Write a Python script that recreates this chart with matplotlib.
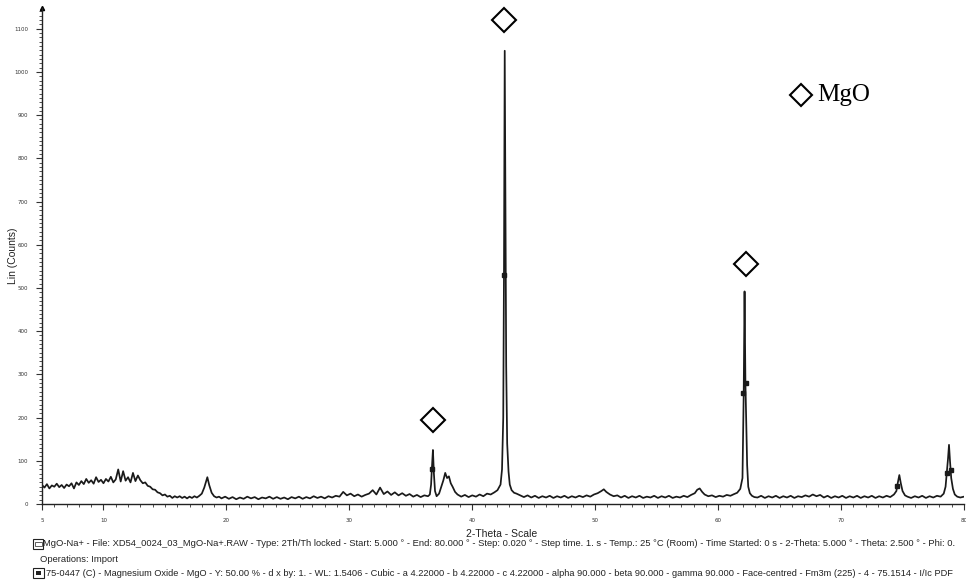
import matplotlib
matplotlib.use("Agg")
import matplotlib.pyplot as plt
from matplotlib.patches import Rectangle
from matplotlib.ticker import MultipleLocator, FixedLocator

# ---------------- data: (2-theta, counts) ----------------
hump_region = [
    (5.0, 44), (5.2, 38), (5.4, 46), (5.6, 36), (5.8, 43), (6.0, 40), (6.2, 47), (6.4, 39),
    (6.6, 44), (6.8, 37), (7.0, 45), (7.2, 41), (7.4, 48), (7.6, 36), (7.8, 50), (8.0, 44),
    (8.2, 53), (8.4, 46), (8.6, 58), (8.8, 49), (9.0, 55), (9.2, 47), (9.4, 62), (9.6, 51),
    (9.8, 56), (10.0, 48), (10.2, 58), (10.4, 52), (10.6, 63), (10.8, 50), (11.0, 57), (11.2, 80),
    (11.4, 52), (11.6, 76), (11.8, 54), (12.0, 62), (12.2, 50), (12.4, 72), (12.6, 53), (12.8, 66),
    (13.0, 55), (13.2, 48), (13.4, 50), (13.6, 42), (13.8, 40), (14.0, 34), (14.2, 33), (14.4, 27),
    (14.6, 25), (14.8, 20), (15.0, 22), (15.2, 17), (15.4, 19), (15.6, 14), (15.8, 18), (16.0, 15),
    (16.2, 18), (16.4, 14), (16.6, 17), (16.8, 13), (17.0, 17), (17.2, 14), (17.4, 18), (17.6, 15),
    (17.8, 19), (18.0, 24), (18.2, 38), (18.45, 62), (18.6, 44), (18.8, 26), (19.0, 18), (19.2, 15),
    (19.4, 17),
]
baseline_20_36 = [
    (19.6, 13), (19.9, 17), (20.2, 12), (20.5, 16), (20.8, 11), (21.1, 15), (21.4, 12), (21.7, 17),
    (22.0, 13), (22.3, 16), (22.6, 11), (22.9, 15), (23.2, 13), (23.5, 17), (23.8, 12), (24.1, 16),
    (24.4, 12), (24.7, 15), (25.0, 11), (25.3, 16), (25.6, 13), (25.9, 17), (26.2, 12), (26.5, 16),
    (26.8, 13), (27.1, 18), (27.4, 14), (27.7, 17), (28.0, 13), (28.3, 18), (28.6, 15), (28.9, 19),
    (29.2, 17), (29.5, 28), (29.8, 20), (30.1, 24), (30.4, 18), (30.7, 22), (31.0, 17), (31.3, 21),
    (31.6, 24), (31.9, 32), (32.2, 22), (32.5, 38), (32.8, 23), (33.1, 29), (33.4, 21), (33.7, 27),
    (34.0, 20), (34.3, 25), (34.6, 19), (34.9, 23), (35.2, 17), (35.5, 21), (35.8, 16), (36.1, 20),
    (36.4, 18),
]
peaks_37_43 = [
    (36.55, 22), (36.65, 45), (36.72, 85), (36.8, 125), (36.88, 70), (36.97, 30), (37.1, 18),
    (37.3, 24), (37.5, 42), (37.65, 55), (37.8, 72), (37.95, 60), (38.1, 64), (38.25, 48),
    (38.4, 40), (38.6, 28), (38.8, 22), (39.1, 17), (39.4, 21), (39.7, 16), (40.0, 20), (40.3, 17),
    (40.6, 22), (40.9, 18), (41.2, 24), (41.5, 22), (41.8, 27), (42.05, 32), (42.3, 45),
    (42.42, 80), (42.52, 200), (42.58, 540), (42.64, 1049), (42.7, 700), (42.76, 320),
    (42.84, 140), (42.95, 75), (43.05, 45), (43.2, 32), (43.4, 26), (43.6, 24), (43.9, 20),
]
baseline_44_62 = [
    (44.2, 16), (44.5, 20), (44.8, 15), (45.1, 19), (45.4, 14), (45.7, 18), (46.0, 15), (46.3, 19),
    (46.6, 14), (46.9, 18), (47.2, 15), (47.5, 19), (47.8, 14), (48.1, 18), (48.4, 15), (48.7, 19),
    (49.0, 16), (49.3, 20), (49.6, 17), (49.9, 22), (50.2, 25), (50.5, 30), (50.7, 34), (50.9, 28),
    (51.2, 22), (51.5, 18), (51.8, 20), (52.1, 15), (52.4, 19), (52.7, 14), (53.0, 18), (53.3, 15),
    (53.6, 19), (53.9, 14), (54.2, 17), (54.5, 15), (54.8, 19), (55.1, 14), (55.4, 18), (55.7, 15),
    (56.0, 19), (56.3, 14), (56.6, 17), (56.9, 15), (57.2, 19), (57.5, 16), (57.8, 21), (58.1, 25),
    (58.3, 33), (58.5, 36), (58.7, 28), (58.9, 22), (59.2, 18), (59.5, 20), (59.8, 16), (60.1, 19),
    (60.4, 17), (60.7, 21), (61.0, 19), (61.3, 23), (61.55, 26), (61.8, 35),
]
peak_62 = [
    (61.98, 60), (62.08, 257), (62.15, 492), (62.22, 280), (62.28, 200), (62.36, 90), (62.45, 40),
    (62.58, 25), (62.75, 19), (62.95, 16),
]
baseline_63_80 = [
    (63.2, 15), (63.5, 19), (63.8, 14), (64.1, 18), (64.4, 15), (64.7, 19), (65.0, 14), (65.3, 18),
    (65.6, 15), (65.9, 19), (66.2, 14), (66.5, 18), (66.8, 16), (67.1, 20), (67.4, 17), (67.7, 22),
    (68.0, 18), (68.3, 21), (68.6, 15), (68.9, 19), (69.2, 14), (69.5, 18), (69.8, 15), (70.1, 19),
    (70.4, 14), (70.7, 18), (71.0, 15), (71.3, 19), (71.6, 14), (71.9, 18), (72.2, 15), (72.5, 19),
    (72.8, 14), (73.1, 18), (73.4, 15), (73.7, 19), (74.0, 16), (74.3, 22), (74.5, 30), (74.62, 50),
    (74.74, 67), (74.86, 48), (75.0, 30), (75.2, 20), (75.4, 17), (75.7, 14), (76.0, 18), (76.3, 15),
    (76.6, 19), (76.9, 14), (77.2, 18), (77.5, 15), (77.8, 19), (78.1, 17), (78.35, 24), (78.5, 40),
    (78.6, 72), (78.7, 105), (78.78, 137), (78.86, 100), (78.96, 60), (79.1, 35), (79.25, 22),
    (79.45, 17), (79.7, 15), (80.0, 17),
]

# reference-card positions marked on the pattern
card_x = [36.72, 42.58, 62.06, 62.24, 74.58, 78.6, 78.92]
card_y = [82, 530, 257, 280, 42, 72, 78]

# diamond labels above the MgO reflections
label_x = [36.81, 42.62, 62.27]
label_y = [195, 1120, 556]

x_ticks = [5, 10, 20, 30, 40, 50, 60, 70, 80]
y_ticks = [0, 100, 200, 300, 400, 500, 600, 700, 800, 900, 1000, 1100]

legend_x = [66.74]
legend_y = [946]
legend_text = "MgO"

x_title = "2-Theta - Scale"
y_title = "Lin (Counts)"
info_line1 = ("MgO-Na+ - File: XD54_0024_03_MgO-Na+.RAW - Type: 2Th/Th locked - Start: 5.000 ° - "
              "End: 80.000 ° - Step: 0.020 ° - Step time. 1. s - Temp.: 25 °C (Room) - Time Started: 0 s - "
              "2-Theta: 5.000 ° - Theta: 2.500 ° - Phi: 0.")
info_line2 = "Operations: Import"
info_line3 = ("75-0447 (C) - Magnesium Oxide - MgO - Y: 50.00 % - d x by: 1. - WL: 1.5406 - Cubic - "
              "a 4.22000 - b 4.22000 - c 4.22000 - alpha 90.000 - beta 90.000 - gamma 90.000 - "
              "Face-centred - Fm3m (225) - 4 - 75.1514 - I/Ic PDF")

pattern = hump_region + baseline_20_36 + peaks_37_43 + baseline_44_62 + peak_62 + baseline_63_80
two_theta = [p[0] for p in pattern]
counts = [p[1] for p in pattern]

# ---------------- figure ----------------
W, H = 966, 584
fig = plt.figure(figsize=(W / 100, H / 100), dpi=100)
fig.patch.set_facecolor("white")


def fx(px):
    return px / W


def fy(py):
    return 1 - py / H


ax = fig.add_axes([fx(42), fy(504), fx(964) - fx(42), fy(8) - fy(504)])
ax.set_xlim(5, 80)
ax.set_ylim(0, 1148)

ax.plot(two_theta, counts, color="#1a1a1a", lw=1.25)
ax.plot(card_x, card_y, ls="none", marker="s", ms=2.2, color="#1a1a1a")
ax.plot(label_x, label_y, ls="none", marker="D", ms=12.5, mfc="none", mec="black", mew=1.5,
        clip_on=False)
ax.plot(legend_x, legend_y, ls="none", marker="D", ms=11, mfc="none", mec="black", mew=1.5)
ax.text(68.1, 946, legend_text, family="Liberation Serif", fontsize=18, va="center", ha="left",
        color="black")

for s in ["top", "right"]:
    ax.spines[s].set_visible(False)
for s in ["left", "bottom"]:
    ax.spines[s].set_linewidth(1.0)
    ax.spines[s].set_color("#222222")

ax.xaxis.set_major_locator(FixedLocator(x_ticks))
ax.xaxis.set_minor_locator(MultipleLocator(1))
ax.yaxis.set_major_locator(FixedLocator(y_ticks))
ax.yaxis.set_minor_locator(MultipleLocator(10))
ax.tick_params(axis="both", which="major", direction="out", length=4, width=0.8, labelsize=4,
               colors="#333333")
ax.tick_params(axis="both", which="minor", direction="out", length=2, width=0.6, colors="#333333")
ax.tick_params(axis="x", which="major", pad=6)
ax.tick_params(axis="y", which="major", pad=6)

# arrow at top of y axis
ax.plot([0], [1], marker="^", ms=3, color="black", transform=ax.transAxes, clip_on=False)

# axis titles
fig.text(fx(13), fy(256), y_title, rotation=90, ha="center", va="center", fontsize=7.5,
         family="Liberation Sans", color="#222222")
fig.text(fx(502), fy(534), x_title, ha="center", va="center", fontsize=7.5,
         family="Liberation Sans", color="#222222")

# info lines
fig.text(fx(43), fy(544), info_line1, ha="left", va="center", fontsize=6.75,
         family="Liberation Sans", color="#222222")
fig.text(fx(40), fy(559), info_line2, ha="left", va="center", fontsize=6.75,
         family="Liberation Sans", color="#222222")
fig.text(fx(46), fy(573), info_line3, ha="left", va="center", fontsize=6.7,
         family="Liberation Sans", color="#222222")

# small icons
fig.patches.append(Rectangle((fx(33), fy(549)), fx(10), 10 / H, transform=fig.transFigure,
                             fill=False, lw=0.8, ec="#222222"))
fig.patches.append(Rectangle((fx(34.5), fy(546)), fx(7), 4 / H, transform=fig.transFigure,
                             fill=False, lw=0.6, ec="#444444"))
fig.patches.append(Rectangle((fx(33), fy(578)), fx(11), 10 / H, transform=fig.transFigure,
                             fill=False, lw=0.8, ec="#222222"))
fig.patches.append(Rectangle((fx(36), fy(575)), fx(5), 4 / H, transform=fig.transFigure,
                             fill=True, lw=0, fc="#222222"))

fig.savefig("out.png", dpi=100, facecolor="white")
